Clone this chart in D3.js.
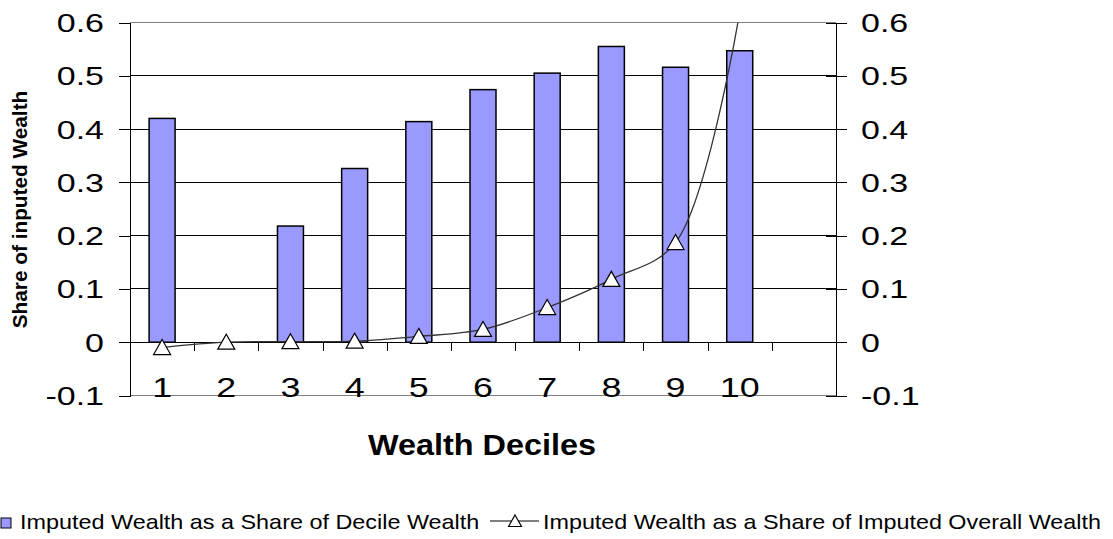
<!DOCTYPE html>
<html>
<head>
<meta charset="utf-8">
<script src="https://cdn.jsdelivr.net/npm/d3@7"></script>
<style>
  body { margin: 0; background: #fff; }
  text { font-family: "Liberation Sans", Arial, sans-serif; fill: #000; }
  .crisp line, .crisp path { shape-rendering: crispEdges; }
</style>
</head>
<body>
<div id="chart"></div>
<script>
// Chart data
const deciles = ["1", "2", "3", "4", "5", "6", "7", "8", "9", "10", ""];
const shareOfDecile = [0.42, null, 0.218, 0.326, 0.414, 0.474, 0.505, 0.555, 0.516, 0.547, null];
const shareOfOverall = [-0.01, 0.0, 0.001, 0.002, 0.011, 0.024, 0.065, 0.118, 0.187, 0.62, null];
const yTicks = [-0.1, 0, 0.1, 0.2, 0.3, 0.4, 0.5, 0.6];

const W = 1113, H = 539;
const plot = { left: 130, right: 836, top: 22.5, bottom: 395.5 };

const svg = d3.select("#chart").append("svg")
    .attr("width", W)
    .attr("height", H);

svg.append("rect").attr("width", W).attr("height", H).attr("fill", "#fff");

// Scales
const x = d3.scaleBand().domain(d3.range(deciles.length)).range([plot.left, plot.right]);
const xEdge = d3.scaleLinear().domain([0, deciles.length]).range([plot.left, plot.right]);
const y = d3.scaleLinear().domain([-0.1, 0.6]).range([plot.bottom, plot.top]);
const fmt = d => String(+d.toFixed(1));

// Gridlines
svg.append("g")
    .attr("class", "crisp")
  .selectAll("line")
  .data(yTicks.filter(d => d > -0.1 && d < 0.6))
  .enter().append("line")
    .attr("x1", plot.left).attr("x2", plot.right)
    .attr("y1", d => y(d)).attr("y2", d => y(d))
    .attr("stroke", "#000").attr("stroke-width", 1);

// plot area border top/bottom (grey)
const border = svg.append("g").attr("class", "crisp");
[0.6, -0.1].forEach(v => {
  border.append("line")
    .attr("x1", plot.left).attr("x2", plot.right)
    .attr("y1", y(v)).attr("y2", y(v))
    .attr("stroke", "#808080").attr("stroke-width", 1);
});

// Bars
const barW = x.bandwidth() * 0.405;
svg.append("g")
  .selectAll("rect")
  .data(shareOfDecile.map((v, i) => ({ i, v })).filter(d => d.v != null))
  .enter().append("rect")
    .attr("x", d => x(d.i) + x.bandwidth() / 2 - barW / 2)
    .attr("y", d => y(d.v))
    .attr("width", barW)
    .attr("height", d => y(0) - y(d.v))
    .attr("fill", "#9999FF")
    .attr("stroke", "#000")
    .attr("stroke-width", 1.5);

// Left axis
const leftAxis = svg.append("g")
    .attr("class", "crisp")
    .attr("transform", `translate(${plot.left},0)`)
    .call(d3.axisLeft(y).tickValues(yTicks).tickFormat(fmt).tickSize(11).tickPadding(0));
leftAxis.select(".domain").attr("stroke", "#000");
leftAxis.selectAll("text")
    .attr("x", null)
    .attr("dy", "0.36em")
    .attr("transform", "translate(-26,0) scale(1.36,1)")
    .style("font-size", "25px")
    .style("font-family", "Liberation Sans, Arial, sans-serif");

// Right axis
const rightAxis = svg.append("g")
    .attr("class", "crisp")
    .attr("transform", `translate(${plot.right},0)`)
    .call(d3.axisRight(y).tickValues(yTicks).tickFormat(fmt).tickSizeInner(11).tickSizeOuter(0).tickPadding(0));
rightAxis.selectAll(".tick line").attr("x1", -10);
rightAxis.selectAll("text")
    .attr("x", null)
    .attr("dy", "0.36em")
    .attr("transform", "translate(25,0) scale(1.36,1)")
    .style("font-size", "25px")
    .style("font-family", "Liberation Sans, Arial, sans-serif");

// Category axis at zero: boundary ticks
svg.append("g")
    .attr("class", "crisp")
    .attr("transform", `translate(0,${y(0)})`)
    .call(d3.axisBottom(xEdge).tickValues(d3.range(0, deciles.length + 1)).tickFormat("").tickSizeInner(9).tickSizeOuter(0))
    .select(".domain").attr("stroke", "#000");

// Category labels
const catAxis = svg.append("g")
    .attr("transform", `translate(0,${y(0)})`)
    .call(d3.axisBottom(x).tickFormat(i => deciles[i]).tickSize(0));
catAxis.select(".domain").remove();
catAxis.selectAll("text")
    .attr("y", null)
    .attr("dy", null)
    .attr("transform", "translate(0,54.5) scale(1.28,1)")
    .style("font-size", "28px")
    .style("font-family", "Liberation Sans, Arial, sans-serif");

// Line series (smoothed), clipped to plot area
svg.append("clipPath").attr("id", "plotClip")
  .append("rect")
    .attr("x", plot.left).attr("y", plot.top)
    .attr("width", plot.right - plot.left).attr("height", plot.bottom - plot.top);

const linePts = shareOfOverall.map((v, i) => ({ i, v })).filter(d => d.v != null);
const line = d3.line()
    .x(d => x(d.i) + x.bandwidth() / 2)
    .y(d => y(d.v))
    .curve(d3.curveCatmullRom.alpha(0.5));

svg.append("path")
    .datum(linePts)
    .attr("clip-path", "url(#plotClip)")
    .attr("d", line)
    .attr("fill", "none")
    .attr("stroke", "#333")
    .attr("stroke-width", 1.3);

const tri = "M0,-8L8.5,7L-8.5,7Z";
svg.append("g")
  .selectAll("path")
  .data(linePts.filter(d => d.v <= 0.6))
  .enter().append("path")
    .attr("d", tri)
    .attr("transform", d => `translate(${x(d.i) + x.bandwidth() / 2},${y(d.v)})`)
    .attr("fill", "#fff")
    .attr("stroke", "#000")
    .attr("stroke-width", 1.2);

// Axis titles
svg.append("text")
    .attr("transform", "translate(482,455) scale(1.08,1)")
    .attr("text-anchor", "middle")
    .style("font-size", "30px")
    .style("font-weight", "bold")
    .text("Wealth Deciles");

svg.append("text")
    .attr("transform", "translate(26.5,209.5) rotate(-90) scale(1.04,1)")
    .attr("text-anchor", "middle")
    .style("font-size", "20px")
    .style("font-weight", "bold")
    .text("Share of inputed Wealth");

// Legend
const legend = svg.append("g");
legend.append("rect")
    .attr("x", 1).attr("y", 518).attr("width", 10).attr("height", 10)
    .attr("fill", "#9999FF").attr("stroke", "#000").attr("stroke-width", 1);
legend.append("text")
    .attr("transform", "translate(20,529) scale(1.17,1)")
    .style("font-size", "20px")
    .text("Imputed Wealth as a Share of Decile Wealth");
legend.append("line")
    .attr("x1", 490).attr("x2", 539).attr("y1", 521).attr("y2", 521)
    .attr("stroke", "#000").attr("stroke-width", 1.2);
legend.append("path")
    .attr("d", "M0,-6L6.5,5.5L-6.5,5.5Z")
    .attr("transform", "translate(515,521)")
    .attr("fill", "#fff").attr("stroke", "#000").attr("stroke-width", 1.2);
legend.append("text")
    .attr("transform", "translate(543,529) scale(1.167,1)")
    .style("font-size", "20px")
    .text("Imputed Wealth as a Share of Imputed Overall Wealth");
</script>
</body>
</html>
